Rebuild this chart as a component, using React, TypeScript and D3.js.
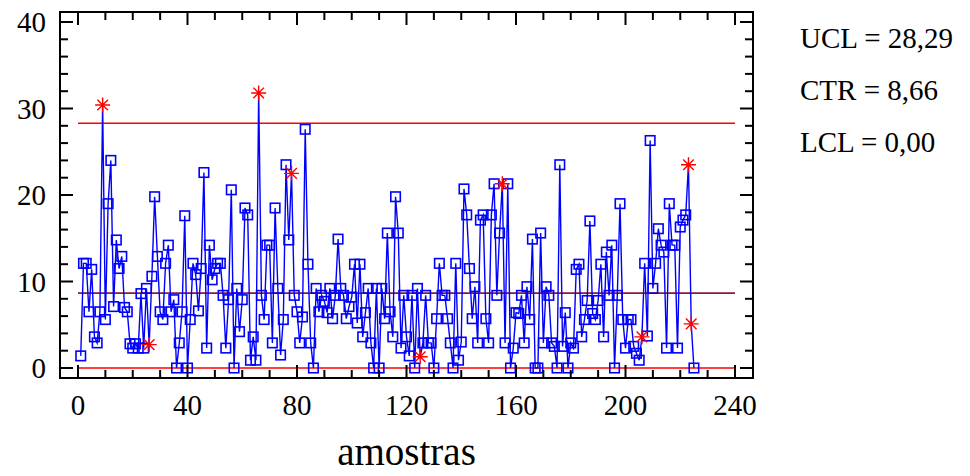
import React, { useEffect, useRef } from 'react';
import * as d3 from 'd3';

// individual values per sample (amostras 1..225)
const values: number[] = [
  1.4, 12.1, 12.1, 6.5, 11.4, 3.6, 2.9, 6.5, 30.4, 5.6,
  19.0, 24.0, 7.1, 14.8, 11.5, 12.9, 7.0, 6.5, 2.8, 2.3,
  2.8, 2.3, 8.6, 2.3, 9.2, 2.7, 10.6, 19.8, 12.9, 6.5,
  5.6, 12.1, 14.2, 6.5, 7.9, 0, 2.9, 6.5, 17.6, 0,
  5.6, 12.1, 10.8, 6.6, 11.5, 22.6, 2.3, 14.2, 10.2, 11.5,
  12.1, 12.1, 8.4, 2.3, 7.9, 20.6, 0, 9.2, 4.2, 7.9,
  18.5, 17.7, 0.9, 3.6, 0.9, 31.8, 8.4, 5.6, 14.2, 14.2,
  2.9, 18.5, 9.2, 1.5, 5.6, 23.5, 14.8, 22.5, 8.4, 6.5,
  2.9, 5.9, 27.6, 12.0, 2.9, 0, 9.2, 6.5, 8.4, 7.7,
  6.4, 9.2, 5.7, 8.4, 14.9, 9.2, 8.4, 5.7, 7.1, 8.2,
  12.0, 5.2, 12.0, 3.6, 6.4, 9.2, 2.9, 0, 9.2, 0,
  9.2, 5.7, 15.6, 6.5, 3.6, 19.8, 15.6, 2.3, 8.4, 3.6,
  1.4, 8.4, 0, 9.2, 1.3, 2.9, 8.4, 2.9, 2.9, 0,
  5.7, 12.1, 8.4, 8.4, 5.7, 2.9, 0, 12.1, 0.9, 3.0,
  20.7, 17.7, 11.5, 5.7, 9.4, 2.9, 17.1, 17.7, 5.7, 2.9,
  17.7, 21.3, 8.4, 15.6, 21.3, 2.9, 21.3, 0, 2.3, 6.4,
  6.3, 8.4, 2.9, 9.4, 5.6, 14.9, 0, 0, 15.6, 2.9,
  9.4, 8.4, 2.9, 2.5, 0, 23.5, 2.5, 6.4, 0, 2.9,
  2.3, 11.4, 12.0, 3.6, 5.6, 7.8, 17.0, 6.3, 5.6, 7.8,
  12.0, 3.6, 13.4, 8.4, 14.2, 0, 8.4, 19.0, 5.6, 2.3,
  5.6, 5.6, 2.5, 1.7, 0.9, 3.6, 12.1, 3.7, 26.3, 9.2,
  12.1, 16.1, 14.2, 13.4, 2.3, 19.0, 14.2, 14.2, 2.3, 16.3,
  17.1, 17.7, 23.5, 5.1, 0,
];

// samples flagged as out of control (drawn as red asterisks)
const flagged: number[] = [9, 26, 66, 78, 125, 155, 206, 223, 224];

const UCL = 28.29;
const CTR = 8.66;
const LCL = 0;
const limitLabels = ['UCL = 28,29', 'CTR = 8,66', 'LCL = 0,00'];
const xTicks = [0, 40, 80, 120, 160, 200, 240];
const yTicks = [0, 10, 20, 30, 40];

const ControlChart = () => {
  const svgRef = useRef<SVGSVGElement>(null);

  useEffect(() => {
    const svg = d3.select(svgRef.current);
    svg.selectAll('*').remove();

    const frame = { left: 60, right: 753, top: 12, bottom: 378 };
    const x = d3.scaleLinear().domain([0, 240]).range([78, 735]);
    const y = d3.scaleLinear().domain([0, 40]).range([368, 22]);
    const font = '"Liberation Serif", "Times New Roman", serif';

    // limit lines
    const limits = [
      { v: UCL, c: '#ff0000' },
      { v: CTR, c: '#8b1a3c' },
      { v: LCL, c: '#ff0000' },
    ];
    svg.selectAll('line.limit')
      .data(limits)
      .enter()
      .append('line')
      .attr('class', 'limit')
      .attr('x1', x(0))
      .attr('x2', x(240))
      .attr('y1', d => y(d.v))
      .attr('y2', d => y(d.v))
      .attr('stroke', d => d.c)
      .attr('stroke-width', 1.6);

    const data = values.map((v, i) => ({ i: i + 1, v }));

    // connecting line
    const line = d3.line<{ i: number; v: number }>()
      .x(d => x(d.i))
      .y(d => y(d.v));

    svg.append('path')
      .datum(data)
      .attr('fill', 'none')
      .attr('stroke', '#0000ff')
      .attr('stroke-width', 1.4)
      .attr('d', line);

    // square markers
    const s = 9.5;
    svg.selectAll('rect.pt')
      .data(data.filter(d => !flagged.includes(d.i)))
      .enter()
      .append('rect')
      .attr('class', 'pt')
      .attr('x', d => x(d.i) - s / 2)
      .attr('y', d => y(d.v) - s / 2)
      .attr('width', s)
      .attr('height', s)
      .attr('fill', 'none')
      .attr('stroke', '#0000ff')
      .attr('stroke-width', 1.6);

    // asterisks for flagged points
    const r = 7.5;
    const k = r * Math.SQRT1_2;
    const star = `M0,${-r}V${r}M${-r},0H${r}M${-k},${-k}L${k},${k}M${-k},${k}L${k},${-k}`;
    svg.selectAll('path.flag')
      .data(data.filter(d => flagged.includes(d.i)))
      .enter()
      .append('path')
      .attr('class', 'flag')
      .attr('transform', d => `translate(${x(d.i)},${y(d.v)})`)
      .attr('d', star)
      .attr('stroke', '#ff0000')
      .attr('stroke-width', 1.4)
      .attr('fill', 'none');

    // frame
    svg.append('rect')
      .attr('x', frame.left)
      .attr('y', frame.top)
      .attr('width', frame.right - frame.left)
      .attr('height', frame.bottom - frame.top)
      .attr('fill', 'none')
      .attr('stroke', '#000')
      .attr('stroke-width', 2);

    // inward ticks on all four sides
    const major = 13;
    const minor = 8;
    const yMinor = d3.range(0, 41, 2);
    const xMinor = d3.range(0, 241, 10);
    const g = svg.append('g').attr('stroke', '#000').attr('stroke-width', 2);

    yMinor.forEach(v => {
      const len = v % 10 === 0 ? major : minor;
      g.append('line').attr('x1', frame.left).attr('x2', frame.left + len)
        .attr('y1', y(v)).attr('y2', y(v));
      g.append('line').attr('x1', frame.right).attr('x2', frame.right - len)
        .attr('y1', y(v)).attr('y2', y(v));
    });
    xMinor.forEach(v => {
      const len = v % 40 === 0 ? major : minor;
      g.append('line').attr('y1', frame.bottom).attr('y2', frame.bottom - len)
        .attr('x1', x(v)).attr('x2', x(v));
      g.append('line').attr('y1', frame.top).attr('y2', frame.top + len)
        .attr('x1', x(v)).attr('x2', x(v));
    });

    // tick labels
    svg.selectAll('text.ylab')
      .data(yTicks)
      .enter()
      .append('text')
      .attr('class', 'ylab')
      .attr('x', 46)
      .attr('y', d => y(d) + 10)
      .attr('text-anchor', 'end')
      .attr('font-family', font)
      .attr('font-size', 29)
      .text(d => d);

    svg.selectAll('text.xlab')
      .data(xTicks)
      .enter()
      .append('text')
      .attr('class', 'xlab')
      .attr('x', d => x(d))
      .attr('y', 415)
      .attr('text-anchor', 'middle')
      .attr('font-family', font)
      .attr('font-size', 29)
      .text(d => d);

    // x-axis title
    svg.append('text')
      .attr('x', x(120))
      .attr('y', 465)
      .attr('text-anchor', 'middle')
      .attr('font-family', font)
      .attr('font-size', 39)
      .text('amostras');

    // limit values
    svg.selectAll('text.lim')
      .data(limitLabels)
      .enter()
      .append('text')
      .attr('class', 'lim')
      .attr('x', 800)
      .attr('y', (d, i) => 48 + i * 52)
      .attr('font-family', font)
      .attr('font-size', 29)
      .text(d => d);
  }, []);

  return (
    <svg
      ref={svgRef}
      width={970}
      height={476}
      style={{ position: 'absolute', left: 0, top: 0, background: '#fff' }}
    />
  );
};

export default function App() {
  return <ControlChart />;
}
